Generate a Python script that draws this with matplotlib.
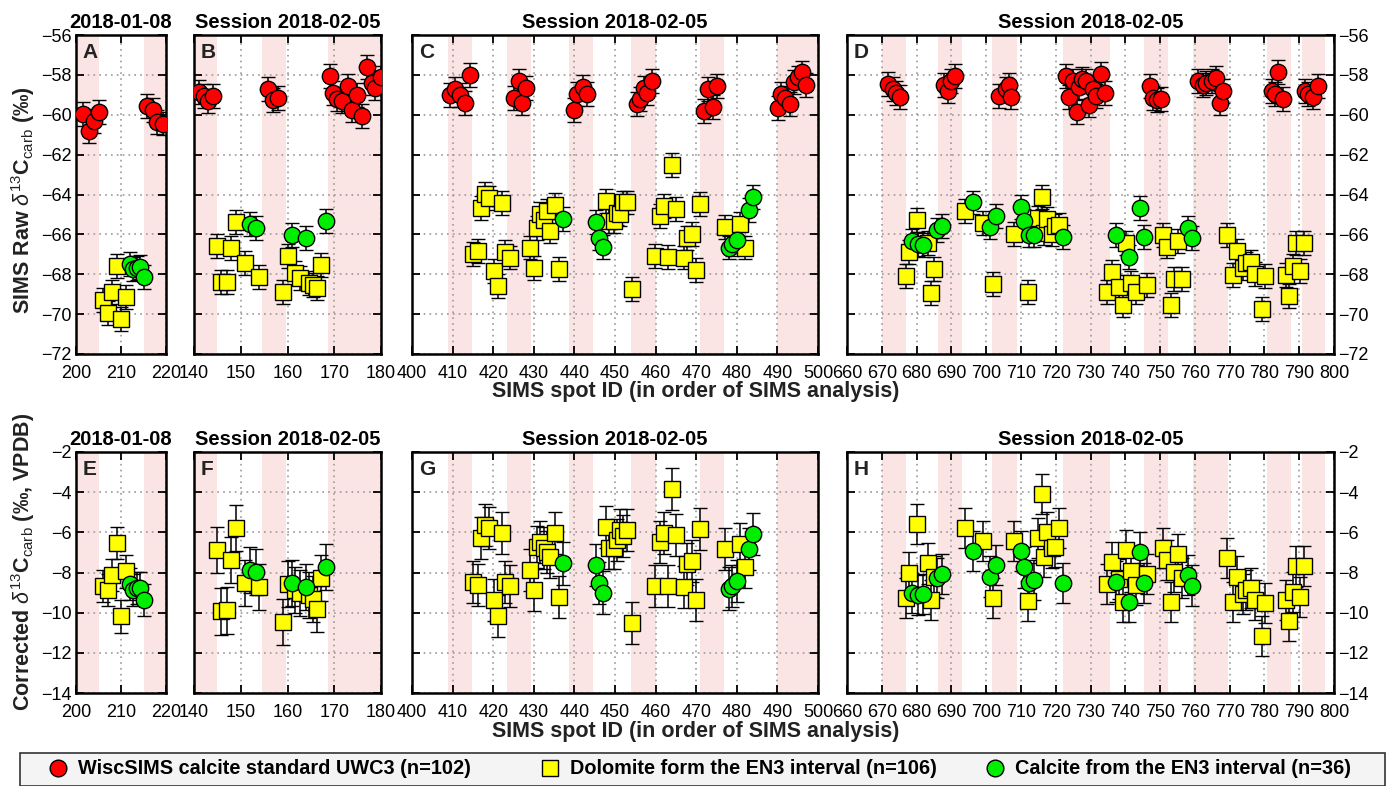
import matplotlib
matplotlib.use('Agg')
import matplotlib.pyplot as plt
from matplotlib.lines import Line2D
from matplotlib.patches import Rectangle

plt.rcParams['font.family'] = ['Liberation Sans', 'DejaVu Sans']
plt.rcParams['mathtext.fontset'] = 'custom'
plt.rcParams['mathtext.rm'] = 'Liberation Sans'
plt.rcParams['mathtext.it'] = 'Liberation Sans:italic'
plt.rcParams['mathtext.bf'] = 'Liberation Sans:bold'

# ---------------- data ----------------
# Panel A / E  (session 2018-01-08)
A_std_id = [201.6, 202.9, 204.1, 205.1, 215.7, 217.0, 217.9, 219.3]
A_std_raw = [-59.96, -60.83, -60.30, -59.87, -59.58, -59.75, -60.35, -60.44]
A_dol_id = [205.9, 207.0, 208.1, 209.0, 210.1, 211.0]
A_dol_raw = [-69.28, -69.96, -68.88, -67.60, -70.25, -69.14]
A_dol_cor = [-8.67, -8.88, -8.11, -6.51, -10.19, -7.95]
A_cal_id = [211.9, 212.6, 213.5, 214.3, 215.1]
A_cal_raw = [-67.48, -67.74, -67.69, -67.64, -68.15]
A_cal_cor = [-8.59, -8.88, -8.79, -8.76, -9.35]
A_bands = [(200, 205), (215, 220)]

# Panel B / F
B_std_id = [141.1, 142.1, 143.1, 144.1, 155.9, 156.8, 158.0, 169.1, 169.8, 170.5,
            171.6, 173.0, 173.7, 174.9, 176.0, 177.1, 178.0, 178.7, 179.9]
B_std_raw = [-58.85, -59.07, -59.33, -59.04, -58.73, -59.24, -59.16, -58.05, -58.90, -59.20,
             -59.30, -58.56, -59.75, -58.99, -60.06, -57.62, -58.39, -58.65, -58.13]
B_dol_id = [145.0, 145.8, 147.0, 147.9, 149.0, 150.9, 154.0, 159.1, 160.0, 161.5,
            162.7, 164.5, 165.5, 166.3, 167.1]
B_dol_raw = [-66.58, -68.37, -68.37, -66.67, -65.39, -67.43, -68.12, -68.88, -67.09, -67.94,
             -68.20, -68.46, -68.55, -68.71, -67.52]
B_dol_cor = [-6.88, -9.94, -9.89, -7.39, -5.78, -8.54, -8.71, -10.45, -8.59, -8.88,
             -9.01, -9.13, -9.33, -9.80, -8.28]
B_cal_id = [152.0, 153.3, 161.0, 164.0, 168.2]
B_cal_raw = [-65.47, -65.68, -66.02, -66.19, -65.35]
B_cal_cor = [-7.86, -7.98, -8.54, -8.71, -7.74]
B_bands = [(140, 145), (154.6, 159.6), (168.6, 180)]

# Panel C / G
C_std_id = [409.4, 410.7, 411.9, 413.1, 414.2, 425.0, 426.3, 427.1, 428.2, 440.0,
            440.6, 442.1, 443.1, 455.3, 456.2, 457.1, 458.0, 459.1, 472.0, 472.8,
            474.1, 475.1, 490.1, 490.9, 491.9, 493.0, 494.0, 495.0, 496.1, 497.1]
C_std_raw = [-59.02, -58.69, -59.02, -59.39, -58.00, -59.14, -58.30, -59.42, -58.64, -59.77,
             -58.97, -58.59, -58.97, -59.47, -59.22, -58.64, -58.92, -58.33, -59.80, -58.69,
             -59.60, -58.55, -59.64, -58.97, -59.14, -59.47, -58.38, -58.13, -57.88, -58.52]
C_dol_id = [415.0, 416.2, 417.1, 418.1, 419.0, 420.1, 421.1, 422.2, 423.0, 424.1,
            429.1, 430.0, 430.8, 431.6, 432.5, 433.3, 434.1, 435.1, 436.1,
            447.8, 448.6, 449.7, 450.6, 451.3, 452.0, 453.0, 454.2,
            459.9, 461.2, 462.0, 463.1, 464.0, 465.1, 467.1, 467.8, 469.0, 470.0, 471.0,
            477.2, 480.9, 482.1]
C_dol_raw = [-67.00, -66.83, -64.66, -63.99, -64.16, -67.83, -68.59, -64.41, -66.88, -67.16,
             -66.66, -67.67, -65.66, -64.99, -65.27, -64.82, -65.83, -64.54, -67.75,
             -64.32, -65.32, -65.32, -64.91, -64.99, -64.40, -64.40, -68.75,
             -67.08, -65.07, -64.57, -67.13, -62.53, -64.74, -67.16, -66.16, -65.96, -67.78, -64.49,
             -65.61, -65.49, -66.66]
C_dol_cor = [-8.47, -8.63, -6.30, -5.63, -5.80, -9.38, -10.18, -6.05, -8.47, -8.68,
             -7.88, -8.88, -6.72, -6.47, -6.80, -6.97, -7.22, -6.05, -9.22,
             -5.75, -6.80, -6.80, -6.38, -5.88, -6.20, -5.88, -10.52,
             -8.67, -6.47, -6.02, -8.68, -3.83, -6.13, -8.72, -7.58, -7.43, -9.38, -5.85,
             -6.83, -6.58, -7.72]
C_cal_id = [437.1, 445.2, 446.0, 447.0, 478.0, 478.9, 480.0, 482.9, 484.0]
C_cal_raw = [-65.24, -65.36, -66.19, -66.63, -66.66, -66.49, -66.28, -64.79, -64.12]
C_cal_cor = [-7.55, -7.63, -8.52, -9.00, -8.80, -8.68, -8.42, -6.83, -6.10]
C_bands = [(408.9, 414.8), (423.5, 429.4), (438.6, 444.6), (454.0, 460.0),
           (471.0, 476.9), (490.0, 500.0)]

# Panel D / H
D_std_id = [671.9, 673.1, 674.0, 675.2, 688.0, 688.9, 689.9, 691.1, 703.8, 705.7,
            706.5, 707.2, 723.0, 723.8, 724.9, 726.1, 726.8, 727.6, 728.8, 729.7,
            730.7, 731.6, 733.0, 734.3, 747.0, 748.0, 749.1, 750.4, 760.9, 762.2,
            763.3, 764.8, 766.0, 767.2, 768.1, 782.1, 783.0, 784.0, 785.2, 791.7,
            792.6, 793.9, 795.5]
D_std_raw = [-58.46, -58.72, -58.89, -59.09, -58.51, -58.80, -58.29, -58.07, -59.06, -58.72,
             -58.51, -59.09, -58.07, -59.09, -58.29, -59.87, -58.63, -58.21, -58.29, -59.53,
             -58.72, -59.06, -57.95, -58.89, -58.55, -59.14, -59.26, -59.23, -58.29, -58.51,
             -58.41, -58.29, -58.17, -59.40, -58.80, -58.80, -58.97, -57.87, -59.19, -58.80,
             -58.97, -59.09, -58.55]
D_dol_id = [676.9, 677.9, 680.0, 683.2, 684.1, 685.1, 694.0, 699.0, 702.0, 708.1,
            712.1, 715.0, 716.1, 716.6, 717.5, 718.9, 719.8, 721.0,
            734.8, 736.2, 738.2, 739.2, 740.2, 741.5, 743.0, 746.1,
            750.8, 751.9, 753.1, 754.0, 755.2, 756.3,
            769.1, 771.1, 772.2, 773.7, 774.8, 776.0, 777.2, 779.2, 780.1,
            786.2, 787.1, 788.2, 789.2, 790.2, 791.3]
D_dol_raw = [-68.09, -66.90, -65.30, -66.44, -68.95, -67.72, -64.83, -65.42, -68.48, -65.98,
             -68.90, -65.17, -64.12, -65.93, -65.25, -65.98, -65.59, -65.51,
             -68.90, -67.91, -68.65, -69.55, -66.44, -68.43, -68.90, -68.53,
             -66.02, -66.61, -69.55, -68.22, -66.31, -68.26,
             -66.05, -68.05, -66.83, -67.68, -67.46, -67.38, -67.97, -69.72, -68.09,
             -68.02, -69.07, -67.58, -66.44, -67.85, -66.44]
D_dol_cor = [-9.25, -8.00, -5.58, -7.55, -9.35, -8.20, -5.77, -6.42, -9.28, -6.43,
             -9.43, -6.30, -4.08, -7.22, -5.97, -6.80, -6.72, -5.80,
             -8.58, -7.47, -8.33, -9.47, -6.88, -7.95, -8.62, -8.07,
             -6.80, -7.38, -9.47, -7.97, -7.08, -8.28,
             -7.27, -9.47, -8.20, -9.05, -8.88, -8.78, -9.35, -11.18, -9.52,
             -9.35, -10.42, -8.97, -7.70, -9.20, -7.68]
D_cal_id = [678.8, 680.3, 681.8, 685.8, 687.2, 696.1, 701.0, 702.9, 710.0, 711.0,
            712.4, 713.7, 722.2, 737.2, 741.1, 744.3, 745.3, 758.0, 759.3]
D_cal_raw = [-66.32, -66.49, -66.53, -65.76, -65.56, -64.40, -65.64, -65.08, -64.63, -65.34,
             -66.02, -66.02, -66.15, -66.02, -67.12, -64.66, -66.15, -65.68, -66.19]
D_cal_cor = [-9.00, -9.10, -9.07, -8.28, -8.07, -6.92, -8.20, -7.62, -6.92, -7.75,
             -8.52, -8.37, -8.53, -8.45, -9.47, -6.97, -8.52, -8.12, -8.65]
D_bands = [(670.2, 677.1), (686.2, 693.0), (701.8, 708.8), (722.0, 735.5),
           (745.4, 752.4), (759.5, 769.6), (780.8, 787.6), (790.7, 797.4)]

# 1-sigma error bar half-lengths (permil)
err_raw = 0.6
err_cor = {'A': 0.8, 'B': 1.15, 'C': 1.05, 'D': 1.0}

# axis ranges and labels
xlims = {'A': (200, 220), 'B': (140, 180), 'C': (400, 500), 'D': (660, 800)}
xstep = 10
titles = {'A': '2018-01-08', 'B': 'Session 2018-02-05', 'C': 'Session 2018-02-05',
          'D': 'Session 2018-02-05'}
raw_ylim = (-72, -56)
cor_ylim = (-14, -2)
letters_top = ['A', 'B', 'C', 'D']
letters_bot = ['E', 'F', 'G', 'H']
legend_labels = ['WiscSIMS calcite standard UWC3 (n=102)',
                 'Dolomite form the EN3 interval (n=106)',
                 'Calcite from the EN3 interval (n=36)']

data = {
    'A': (A_std_id, A_std_raw, A_dol_id, A_dol_raw, A_dol_cor, A_cal_id, A_cal_raw, A_cal_cor, A_bands),
    'B': (B_std_id, B_std_raw, B_dol_id, B_dol_raw, B_dol_cor, B_cal_id, B_cal_raw, B_cal_cor, B_bands),
    'C': (C_std_id, C_std_raw, C_dol_id, C_dol_raw, C_dol_cor, C_cal_id, C_cal_raw, C_cal_cor, C_bands),
    'D': (D_std_id, D_std_raw, D_dol_id, D_dol_raw, D_dol_cor, D_cal_id, D_cal_raw, D_cal_cor, D_bands),
}

# ---------------- styling ----------------
RED = '#ff0000'
YEL = '#ffff00'
GRN = '#00ee00'
BAND = '#fbe4e4'
W, H = 1397, 786
fig = plt.figure(figsize=(W / 100, H / 100), dpi=100)

xpix = {'A': (76, 166), 'B': (194, 381), 'C': (412, 818), 'D': (847, 1334)}
top_y = (35, 354)
bot_y = (452, 693)


def px_axes(x0, x1, y0, y1):
    return fig.add_axes([x0 / W, 1 - y1 / H, (x1 - x0) / W, (y1 - y0) / H])


ekw = dict(ecolor='black', elinewidth=1.1, capsize=5, capthick=1.1,
           mec='black', mew=1.0, ls='none')
MS_C = 11.8
MS_S = 11.0


def style(ax, key, ylim, yticks, letter, left_lab, right_lab):
    x0, x1 = xlims[key]
    ax.set_xlim(x0, x1)
    ax.set_ylim(*ylim)
    ax.set_xticks(range(x0, x1 + 1, xstep))
    ax.set_yticks(yticks)
    ax.grid(True, ls=(0, (1, 2.5)), color='#9a9a9a', lw=1.2)
    ax.set_axisbelow(True)
    ax.tick_params(direction='in', length=6, width=1.3, top=True, right=True,
                   labelsize=13, labelleft=left_lab, labelright=right_lab, pad=3)
    ax.tick_params(axis='x', pad=8)
    for s in ax.spines.values():
        s.set_linewidth(1.8)
    ax.set_title(titles[key], fontsize=14.5, fontweight='bold', pad=5)
    ax.annotate(letter, xy=(0, 1), xycoords='axes fraction', xytext=(5, -6),
                textcoords='offset points', ha='left', va='top',
                fontsize=15, fontweight='bold', color='#222222')
    for a, b in data[key][8]:
        ax.axvspan(a, b, color=BAND, lw=0, zorder=0)


for i, key in enumerate(['A', 'B', 'C', 'D']):
    std_id, std_raw, dol_id, dol_raw, dol_cor, cal_id, cal_raw, cal_cor, bands = data[key]
    # raw
    ax = px_axes(xpix[key][0], xpix[key][1], *top_y)
    style(ax, key, raw_ylim, range(-72, -55, 2), letters_top[i], key == 'A', key == 'D')
    ax.errorbar(std_id, std_raw, yerr=err_raw, fmt='o', ms=MS_C, mfc=RED, zorder=3, **ekw)
    ax.errorbar(dol_id, dol_raw, yerr=err_raw, fmt='s', ms=MS_S, mfc=YEL, zorder=3, **ekw)
    ax.errorbar(cal_id, cal_raw, yerr=err_raw, fmt='o', ms=MS_C, mfc=GRN, zorder=3, **ekw)
    # corrected
    ax2 = px_axes(xpix[key][0], xpix[key][1], *bot_y)
    style(ax2, key, cor_ylim, range(-14, -1, 2), letters_bot[i], key == 'A', key == 'D')
    ax2.errorbar(dol_id, dol_cor, yerr=err_cor[key], fmt='s', ms=MS_S, mfc=YEL, zorder=3, **ekw)
    ax2.errorbar(cal_id, cal_cor, yerr=err_cor[key], fmt='o', ms=MS_C, mfc=GRN, zorder=3, **ekw)

xlabel = 'SIMS spot ID (in order of SIMS analysis)'
fig.text(696 / W, 1 - 392 / H, xlabel, ha='center', va='center', fontsize=15.5,
         fontweight='bold', color='#222222')
fig.text(696 / W, 1 - 731 / H, xlabel, ha='center', va='center', fontsize=15.5,
         fontweight='bold', color='#222222')
fig.text(23 / W, 1 - 200 / H, r'SIMS Raw $\delta^{13}$C$_{\mathrm{carb}}$ (‰)',
         rotation=90, ha='center', va='center', fontsize=15.5, fontweight='bold',
         color='#222222')
fig.text(23 / W, 1 - 562 / H, r'Corrected $\delta^{13}$C$_{\mathrm{carb}}$ (‰, VPDB)',
         rotation=90, ha='center', va='center', fontsize=15.5, fontweight='bold',
         color='#222222')

# legend: framed band with three entries
fig.add_artist(Rectangle((20 / W, 0.0), 1365 / W, 33 / H, transform=fig.transFigure,
                         facecolor='#f4f4f4', edgecolor='#333333', lw=1.2, zorder=0))
handles = [Line2D([], [], marker='o', ls='none', ms=12, mfc=RED, mec='black'),
           Line2D([], [], marker='s', ls='none', ms=11, mfc=YEL, mec='black'),
           Line2D([], [], marker='o', ls='none', ms=12, mfc=GRN, mec='black')]
marker_x = [48, 540, 985]
for j in range(3):
    fig.legend([handles[j]], [legend_labels[j]], loc='center left',
               bbox_to_anchor=(marker_x[j] / W, 1 - 769 / H), frameon=False,
               prop={'weight': 'bold', 'size': 14.3}, handletextpad=0.5,
               handlelength=1.0, borderpad=0.0, borderaxespad=0.0)

fig.savefig('out.png', dpi=100)
